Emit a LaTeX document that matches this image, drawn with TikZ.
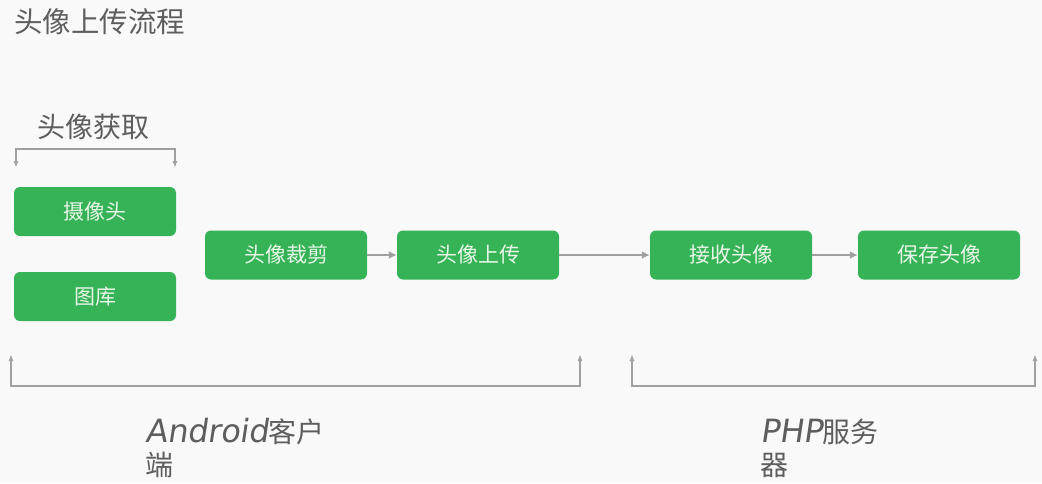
\documentclass[tikz,border=0pt]{standalone}
\usepackage{fontspec}
\setmainfont{DejaVu Sans}
\newfontfamily\cjk{Noto Sans CJK SC}
\newfontfamily\latinhand{DejaVu Sans}[FakeSlant=0.15]
\usetikzlibrary{arrows.meta}
\definecolor{bg}{HTML}{F9F9F9}
\definecolor{boxgreen}{HTML}{36B357}
\definecolor{boxtext}{HTML}{E8F6E8}
\definecolor{txtgray}{HTML}{5E5E5E}
\definecolor{linegray}{HTML}{A0A0A0}
\begin{document}
\begin{tikzpicture}[x=1pt,y=-1pt,
  stepbox/.style={fill=boxgreen,rounded corners=6pt,minimum width=162pt,minimum height=49pt,inner sep=0pt,text=boxtext,font=\cjk\fontsize{21pt}{24pt}\selectfont},
  conn/.style={draw=linegray,line width=2.6pt,-{Latex[length=8pt,width=8pt]}},
  brk/.style={draw=linegray,line width=2pt,{Latex[length=7pt,width=5pt]}-{Latex[length=7pt,width=5pt]}},
  lbl/.style={text=txtgray,inner sep=0pt,anchor=base west}]
\fill[bg] (0,0) rectangle (1042,483);
\useasboundingbox (0,0) rectangle (1042,483);
\node[lbl,font=\cjk\fontsize{28.5pt}{30pt}\selectfont] (title) at (14,32) {头像上传流程};
\node[lbl,font=\cjk\fontsize{28pt}{30pt}\selectfont] (acq) at (37,137) {头像获取};
\node[stepbox] (cam) at (95,211.5) {摄像头};
\node[stepbox] (lib) at (95,296.5) {图库};
\node[stepbox] (crop) at (286,255) {头像裁剪};
\node[stepbox] (up) at (478,255) {头像上传};
\node[stepbox] (recv) at (731,255) {接收头像};
\node[stepbox] (save) at (939,255) {保存头像};
\draw[conn] (crop) -- (up);
\draw[conn] (up) -- (recv);
\draw[conn] (recv) -- (save);
\coordinate (a1) at (16,168);
\coordinate (a2) at (175,168);
\draw[brk] (a1) |- (95,149) -| (a2);
\coordinate (b1) at (11,354);
\coordinate (b2) at (580,354);
\draw[brk] (b1) |- (300,386) -| (b2);
\coordinate (c1) at (632,354);
\coordinate (c2) at (1035,354);
\draw[brk] (c1) |- (830,386) -| (c2);
\node[lbl,font=\fontsize{28pt}{33pt}\selectfont,align=left] (android) at (145,475) {{\latinhand\fontsize{32pt}{33pt}\selectfont Android}{\cjk 客户}\\{\cjk 端}};
\node[lbl,font=\fontsize{28pt}{33pt}\selectfont,align=left] (php) at (760,475) {{\latinhand\fontsize{32pt}{33pt}\selectfont PHP}{\cjk 服务}\\{\cjk 器}};
\end{tikzpicture}
\end{document}
